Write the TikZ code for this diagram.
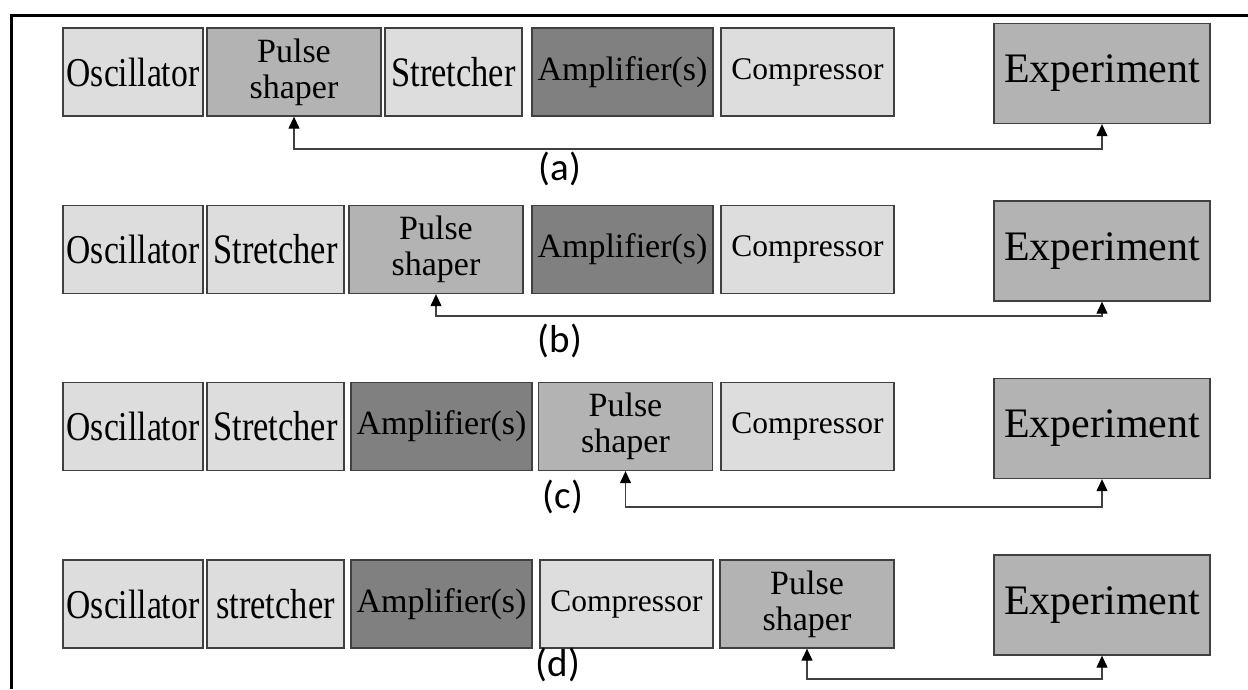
\documentclass[tikz,border=0pt]{standalone}
\usepackage{fontspec}
\setmainfont{Liberation Serif}
\newfontfamily\narrowserif{Liberation Serif}[FakeStretch=0.82]
\newfontfamily\labelfont{Carlito}
\usetikzlibrary{arrows.meta}

\definecolor{lightbox}{HTML}{DDDDDD}
\definecolor{midbox}{HTML}{B3B3B3}
\definecolor{darkbox}{HTML}{808080}
\definecolor{edgegray}{HTML}{404040}

\tikzset{
	blk/.style={draw=edgegray, line width=1.3pt, inner sep=0pt, minimum height=88pt, align=center, font=\fontsize{34}{36}\selectfont},
	osc/.style={blk, fill=lightbox, minimum width=140pt, font=\narrowserif\fontsize{41}{44}\selectfont},
	str/.style={blk, fill=lightbox, minimum width=137pt, font=\narrowserif\fontsize{42}{44}\selectfont},
	comp/.style={blk, fill=lightbox, minimum width=173pt, font=\fontsize{31.5}{34}\selectfont},
	amp/.style={blk, fill=darkbox, minimum width=181pt},
	ps/.style={blk, fill=midbox, minimum width=174pt},
	expt/.style={blk, fill=midbox, minimum width=216pt, minimum height=100pt, font=\fontsize{42}{46}\selectfont},
	fb/.style={draw=black!75, line width=1.2pt, {Triangle[length=12pt,width=11pt,color=black]}-{Triangle[length=12pt,width=11pt,color=black]}},
	tag/.style={inner sep=0pt, font=\labelfont\fontsize{39}{41}\selectfont}
}

\begin{document}
\begin{tikzpicture}[x=1pt,y=-1pt]
	\useasboundingbox (0,0) rectangle (1248,689);
	\draw[line width=3pt] (1248,15) -- (11,15) -- (11,689);

	% (a)
	\node[osc] (oscA) at (133,72) {Oscillator};
	\node[ps] (psA) at (294,72) {Pulse\\shaper};
	\node[str] (strA) at (453.5,72) {Stretcher};
	\node[amp] (ampA) at (622.5,72) {Amplifier(s)};
	\node[comp] (compA) at (807.5,72) {Compressor};
	\node[expt] (expA) at (1102,73.5) {Experiment};
	\coordinate (fbA) at (0,149);
	\draw[fb] (psA.south) -- (psA.south |- fbA) -| (expA.south);
	\node[tag] (tagA) at (560,169) {(a)};

	% (b)
	\node[osc] (oscB) at (133,249.5) {Oscillator};
	\node[str] (strB) at (275.5,249.5) {Stretcher};
	\node[ps] (psB) at (436,249.5) {Pulse\\shaper};
	\node[amp] (ampB) at (622.5,249.5) {Amplifier(s)};
	\node[comp] (compB) at (807.5,249.5) {Compressor};
	\node[expt] (expB) at (1102,251) {Experiment};
	\coordinate (fbB) at (0,316);
	\draw[fb] (psB.south) -- (psB.south |- fbB) -| (expB.south);
	\node[tag] (tagB) at (560,341) {(b)};

	% (c)
	\node[osc] (oscC) at (133,426.5) {Oscillator};
	\node[str] (strC) at (275.5,426.5) {Stretcher};
	\node[amp] (ampC) at (441.5,426.5) {Amplifier(s)};
	\node[ps] (psC) at (625.5,426.5) {Pulse\\shaper};
	\node[comp] (compC) at (807.5,426.5) {Compressor};
	\node[expt] (expC) at (1102,428.5) {Experiment};
	\coordinate (fbC) at (0,507);
	\draw[fb] (psC.south) -- (psC.south |- fbC) -| (expC.south);
	\node[tag] (tagC) at (563,497) {(c)};

	% (d)
	\node[osc] (oscD) at (133,604) {Oscillator};
	\node[str] (strD) at (275.5,604) {stretcher};
	\node[amp] (ampD) at (441.5,604) {Amplifier(s)};
	\node[comp] (compD) at (626.5,604) {Compressor};
	\node[ps] (psD) at (807,604) {Pulse\\shaper};
	\node[expt] (expD) at (1102,605) {Experiment};
	\coordinate (fbD) at (0,679);
	\draw[fb] (psD.south) -- (psD.south |- fbD) -| (expD.south);
	\node[tag] (tagD) at (558,665) {(d)};
\end{tikzpicture}
\end{document}
